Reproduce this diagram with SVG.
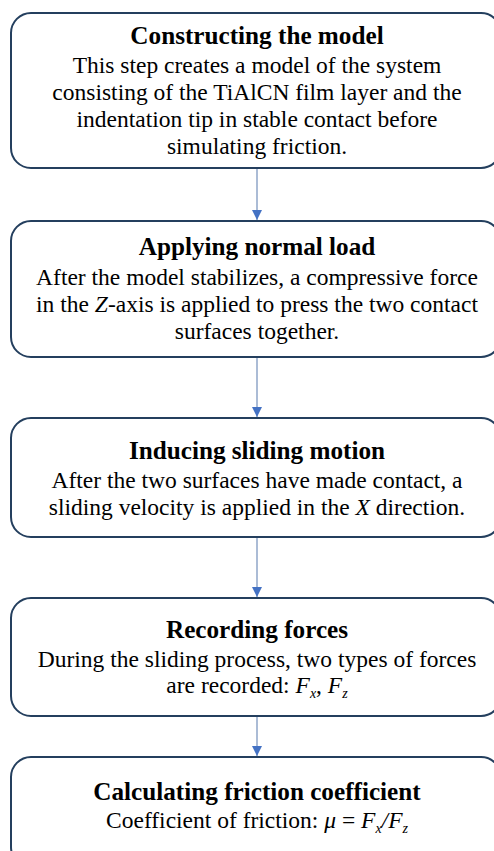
<svg xmlns="http://www.w3.org/2000/svg" width="494" height="851" viewBox="0 0 494 851">
<style>
.box{fill:#ffffff;stroke:#243F5E;stroke-width:2}
.t{font-family:"Liberation Serif","Times New Roman",serif;font-size:25.2px;font-weight:bold;fill:#000;text-anchor:middle}
.b{font-family:"Liberation Serif","Times New Roman",serif;font-size:23.5px;fill:#000;text-anchor:middle}
.i{font-style:italic}
.s{font-size:14px;font-style:italic}
.c{stroke:#8FA6C8;stroke-width:1.5;fill:none}
</style>
<defs>
<marker id="ah" viewBox="0 0 10 10" refX="10" refY="5" markerWidth="10" markerHeight="10" markerUnits="userSpaceOnUse" orient="auto">
<path d="M0,0 L10,5 L0,10 Z" fill="#4472C4"/>
</marker>
</defs>
<rect width="494" height="851" fill="#ffffff"/>
<g id="connectors">
<line class="c" x1="257" y1="168" x2="257" y2="220" marker-end="url(#ah)"/>
<line class="c" x1="257" y1="357" x2="257" y2="417" marker-end="url(#ah)"/>
<line class="c" x1="257" y1="537" x2="257" y2="597" marker-end="url(#ah)"/>
<line class="c" x1="257" y1="716" x2="257" y2="756" marker-end="url(#ah)"/>
</g>
<g id="node1">
<rect class="box" x="11" y="13" width="490" height="155" rx="20"/>
<text class="t" x="257" y="44">Constructing the model</text>
<text class="b" x="257" y="73">This step creates a model of the system</text>
<text class="b" x="257" y="100">consisting of the TiAlCN film layer and the</text>
<text class="b" x="257" y="127">indentation tip in stable contact before</text>
<text class="b" x="257" y="154">simulating friction.</text>
</g>
<g id="node2">
<rect class="box" x="11" y="221" width="490" height="136" rx="20"/>
<text class="t" x="257" y="255">Applying normal load</text>
<text class="b" x="257" y="285">After the model stabilizes, a compressive force</text>
<text class="b" x="257" y="312">in the <tspan class="i">Z</tspan>-axis is applied to press the two contact</text>
<text class="b" x="257" y="339">surfaces together.</text>
</g>
<g id="node3">
<rect class="box" x="11" y="418" width="490" height="119" rx="20"/>
<text class="t" x="257" y="459">Inducing sliding motion</text>
<text class="b" x="257" y="488">After the two surfaces have made contact, a</text>
<text class="b" x="257" y="515">sliding velocity is applied in the <tspan class="i">X</tspan> direction.</text>
</g>
<g id="node4">
<rect class="box" x="11" y="598" width="490" height="118" rx="20"/>
<text class="t" x="257" y="638">Recording forces</text>
<text class="b" x="257" y="667">During the sliding process, two types of forces</text>
<text class="b" x="257" y="693">are recorded: <tspan class="i">F</tspan><tspan class="s" dy="5">x</tspan><tspan dy="-5">, </tspan><tspan class="i">F</tspan><tspan class="s" dy="5">z</tspan></text>
</g>
<g id="node5">
<rect class="box" x="11" y="757" width="490" height="110" rx="20"/>
<text class="t" x="257" y="800">Calculating friction coefficient</text>
<text class="b" x="257" y="828">Coefficient of friction: <tspan class="i">μ</tspan> = <tspan class="i">F</tspan><tspan class="s" dy="5">x</tspan><tspan class="i" dy="-5">/F</tspan><tspan class="s" dy="5">z</tspan></text>
</g>
</svg>
